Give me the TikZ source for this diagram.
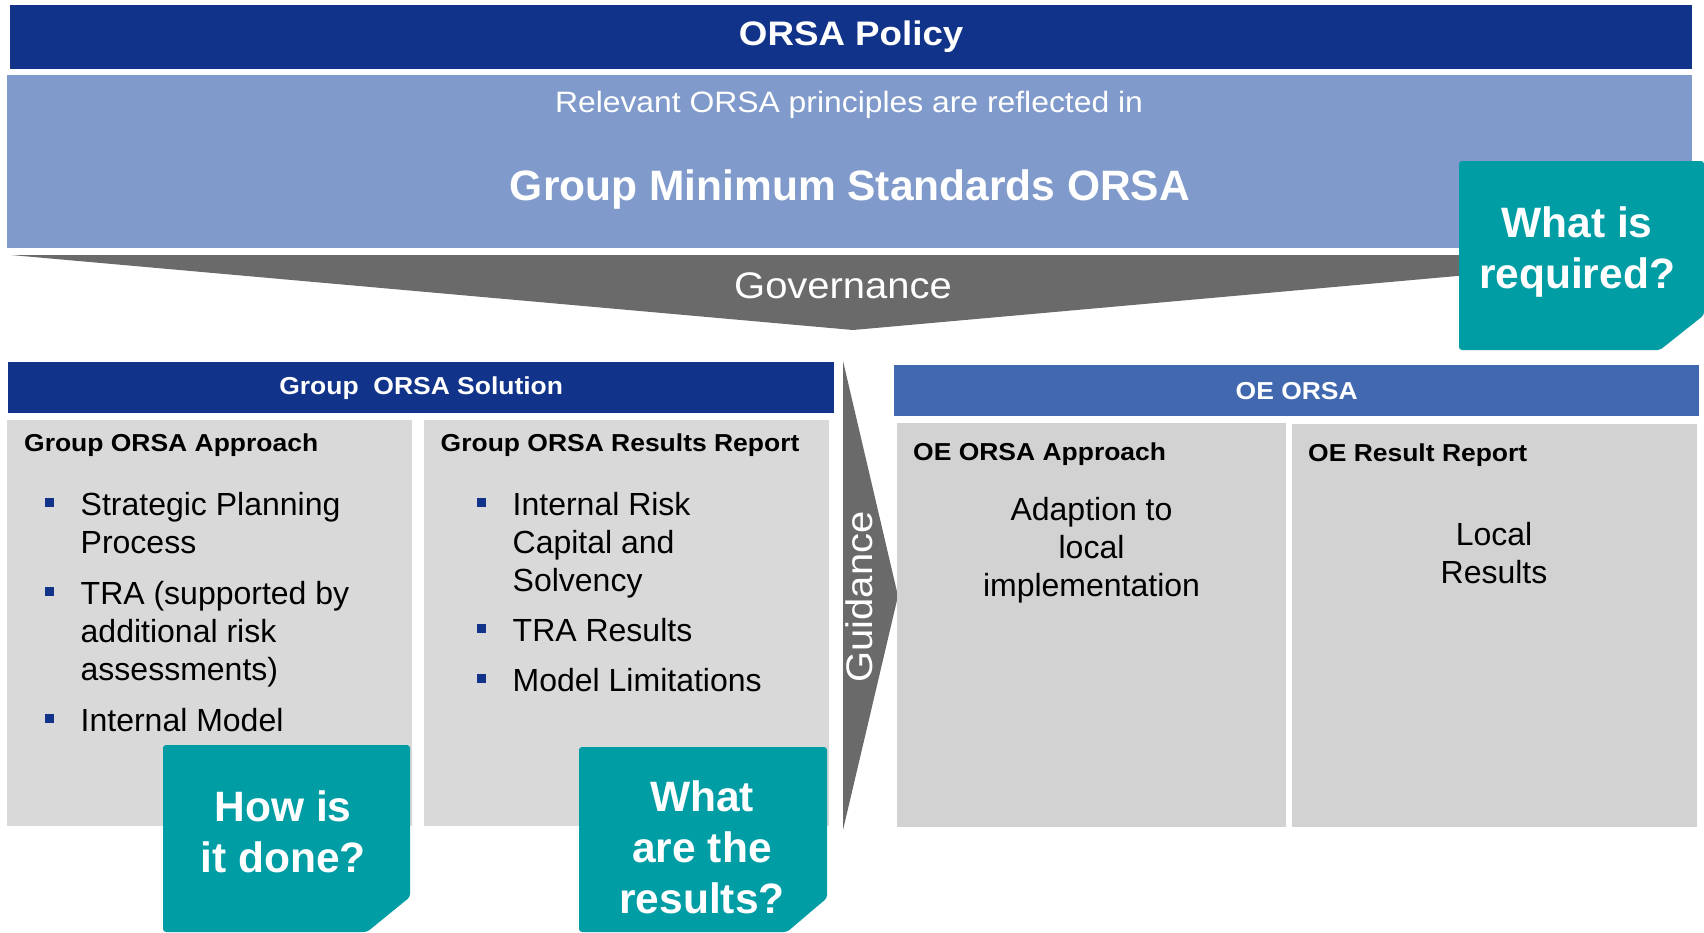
\documentclass[tikz,border=0pt]{standalone}
\usepackage{fontspec}
\setmainfont{Liberation Sans}
\newfontfamily\widefont[FakeStretch=1.08]{Liberation Sans}
\usetikzlibrary{positioning,calc}

\definecolor{policyblue}{HTML}{12338A}
\definecolor{standardblue}{HTML}{809BCB}
\definecolor{oeblue}{HTML}{4269B0}
\definecolor{arrowgrey}{HTML}{6A6A6A}
\definecolor{groupgrey}{HTML}{D9D9D9}
\definecolor{oegrey}{HTML}{D2D2D2}
\definecolor{questionteal}{HTML}{009DA5}

\tikzstyle{bar} = [anchor=north west,inner sep=0,text=white,font=\widefont\bfseries\fontsize{24.5}{29}\selectfont]
\tikzstyle{panel} = [anchor=north west,inner sep=0]
\tikzstyle{heading} = [anchor=base west,inner sep=0,font=\widefont\bfseries\fontsize{24.5}{29}\selectfont]
\tikzstyle{entry} = [anchor=north west,inner sep=0,align=left,font=\fontsize{32}{38}\selectfont]
\tikzstyle{bullet} = [fill=policyblue,rectangle,minimum size=9pt,inner sep=0,yshift=-10.5pt]
\tikzstyle{question} = [fill=questionteal,rounded corners=3pt]
\tikzstyle{answer} = [align=center,text=white,font=\bfseries\fontsize{42.5}{51}\selectfont]
\def \bd {26.5pt}

\begin{document}
\begin{tikzpicture}[x=1pt,y=-1pt]
      \useasboundingbox (0,0) rectangle (1704,932);
      % policy and minimum standards
      \node[bar,fill=policyblue,minimum width=1682pt,minimum height=64pt,font=\widefont\bfseries\fontsize{34}{40}\selectfont] (pol) at (10,5) {ORSA Policy};
      \node[panel,fill=standardblue,minimum width=1685pt,minimum height=173pt] (std) at (7,75) {};
      \node[anchor=base,text=white,font=\widefont\fontsize{29.5}{35}\selectfont] (rel) at (849,112.7) {Relevant ORSA principles are reflected in};
      \node[anchor=base,text=white,font=\bfseries\fontsize{42.5}{51}\selectfont] (gms) at (850,200) {Group Minimum Standards ORSA};
      % governance wedge
      \fill[arrowgrey] (11,255) -- (1692,255) -- (853,330) -- cycle;
      \node[anchor=base,text=white,font=\widefont\fontsize{37}{44}\selectfont] (gov) at (843,298.3) {Governance};
      % group side
      \node[bar,fill=policyblue,minimum width=826pt,minimum height=51pt] (grp) at (8,362) {Group\ \ ORSA Solution};
      \node[panel,fill=groupgrey,minimum width=405pt,minimum height=406pt] (app) at (7,420) {};
      \node[panel,fill=groupgrey,minimum width=405pt,minimum height=406pt] (res) at (424,420) {};
      \node[heading] (apph) at (24,451) {Group ORSA Approach};
      \node[heading] (resh) at (440.5,451.5) {Group ORSA Results Report};
      \node[entry] (a1) at (80.5,492) {Strategic Planning\\Process};
      \node[entry] (a2) at (80.5,581) {TRA (supported by\\additional risk\\assessments)};
      \node[entry] (a3) at (80.5,708) {Internal Model};
      \node[entry] (r1) at (512.5,492) {Internal Risk\\Capital and\\Solvency};
      \node[entry] (r2) at (512.5,618) {TRA Results};
      \node[entry] (r3) at (512.5,668) {Model Limitations};
      \node[bullet,left=\bd of a1.north west] {};
      \node[bullet,left=\bd of a2.north west] {};
      \node[bullet,left=\bd of a3.north west] {};
      \node[bullet,left=\bd of r1.north west] {};
      \node[bullet,left=\bd of r2.north west] {};
      \node[bullet,left=\bd of r3.north west] {};
      % guidance arrow
      \fill[arrowgrey] (843,361) -- (898,596) -- (843,830) -- cycle;
      \node[rotate=90,text=white,font=\widefont\fontsize{37}{44}\selectfont] (gdn) at (859,597) {Guidance};
      % OE side
      \node[bar,fill=oeblue,minimum width=805pt,minimum height=51pt] (oe) at (894,365) {OE ORSA};
      \node[panel,fill=oegrey,minimum width=389pt,minimum height=404pt] (oeapp) at (897,423) {};
      \node[panel,fill=oegrey,minimum width=405pt,minimum height=403pt] (oeres) at (1292,424) {};
      \node[heading] (oeapph) at (913,460) {OE ORSA Approach};
      \node[heading] (oeresh) at (1308,461.5) {OE Result Report};
      \node[entry,anchor=north,align=center] (adp) at (1091.5,497) {Adaption to\\local\\implementation};
      \node[entry,anchor=north,align=center] (loc) at (1494,522.5) {Local\\Results};
      % question tags
      \fill[question] (1459,161) -- (1704,161) -- (1704,315) -- (1660,350) -- (1459,350) -- cycle;
      \node[answer] (req) at (1577,252) {What is\\required?};
      \fill[question] (163,745) -- (410,745) -- (410,897) -- (367,932) -- (163,932) -- cycle;
      \node[answer] (how) at (283,832) {How is\\it done?};
      \fill[question] (579,747) -- (827,747) -- (827,898) -- (787,932) -- (579,932) -- cycle;
      \node[answer] (rst) at (702,847) {What\\are the\\results?};
\end{tikzpicture}
\end{document}
